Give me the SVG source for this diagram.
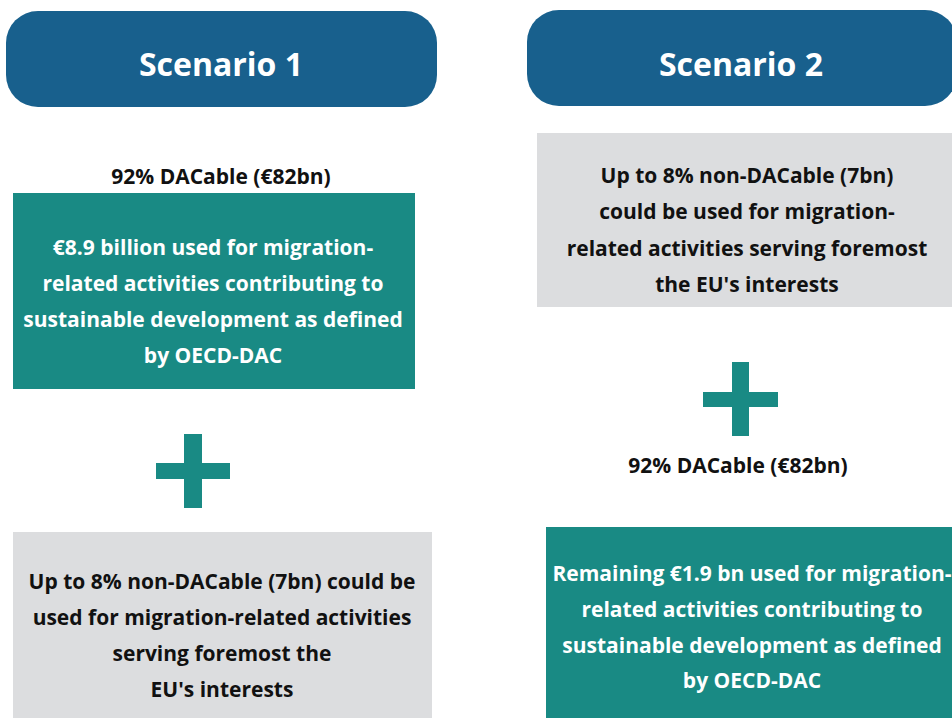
<svg xmlns="http://www.w3.org/2000/svg" width="952" height="718" viewBox="0 0 952 718">
<style>
.hdr{fill:#18608d}
.teal{fill:#198a84}
.gray{fill:#dcdddf}
text{font-family:"Open Sans","Liberation Sans",sans-serif;font-weight:bold;text-anchor:middle}
.h{fill:#fff;font-size:32px}
.w{fill:#fff;font-size:21px}
.b{fill:#111;font-size:21px}
</style>
<rect width="952" height="718" fill="#fff"/>
<g id="scenario1-header">
<rect class="hdr" x="6" y="11" width="431" height="96" rx="32"/>
<text class="h" x="221" y="76">Scenario 1</text>
</g>
<g id="s1-dacable-label">
<text class="b" x="221" y="184">92% DACable (€82bn)</text>
</g>
<g id="s1-teal-box">
<rect class="teal" x="13" y="193" width="402" height="196"/>
<text class="w" x="213" y="255">€8.9 billion used for migration-</text>
<text class="w" x="213" y="291">related activities contributing to</text>
<text class="w" x="213" y="327">sustainable development as defined</text>
<text class="w" x="213" y="363">by OECD-DAC</text>
</g>
<g id="s1-plus">
<rect class="teal" x="184" y="434" width="18" height="74"/>
<rect class="teal" x="156" y="463" width="74" height="16"/>
</g>
<g id="s1-gray-box">
<rect class="gray" x="13" y="532" width="419" height="186"/>
<text class="b" x="222" y="589">Up to 8% non-DACable (7bn) could be</text>
<text class="b" x="222" y="625">used for migration-related activities</text>
<text class="b" x="222" y="661">serving foremost the</text>
<text class="b" x="222" y="697">EU's interests</text>
</g>
<g id="scenario2-header">
<rect class="hdr" x="527" y="10" width="430" height="96" rx="32"/>
<text class="h" x="741" y="76">Scenario 2</text>
</g>
<g id="s2-gray-box">
<rect class="gray" x="537" y="133" width="415" height="174"/>
<text class="b" x="747" y="183">Up to 8% non-DACable (7bn)</text>
<text class="b" x="747" y="219">could be used for migration-</text>
<text class="b" x="747" y="256">related activities serving foremost</text>
<text class="b" x="747" y="292">the EU's interests</text>
</g>
<g id="s2-plus">
<rect class="teal" x="732" y="362" width="17" height="74"/>
<rect class="teal" x="703" y="392" width="75" height="15"/>
</g>
<g id="s2-dacable-label">
<text class="b" x="738" y="473">92% DACable (€82bn)</text>
</g>
<g id="s2-teal-box">
<rect class="teal" x="546" y="527" width="410" height="191"/>
<text class="w" x="752" y="581">Remaining €1.9 bn used for migration-</text>
<text class="w" x="752" y="617">related activities contributing to</text>
<text class="w" x="752" y="653">sustainable development as defined</text>
<text class="w" x="752" y="688">by OECD-DAC</text>
</g>
<g id="connectors"/>
</svg>
